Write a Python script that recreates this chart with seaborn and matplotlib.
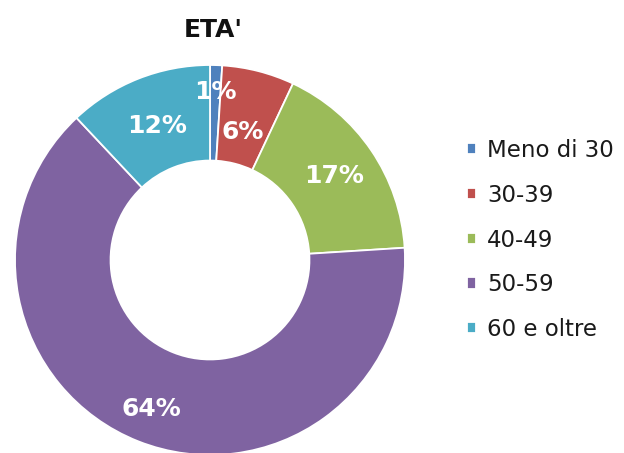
import matplotlib
matplotlib.use("Agg")
import matplotlib.pyplot as plt
import seaborn as sns

categories = ["Meno di 30", "30-39", "40-49", "50-59", "60 e oltre"]
shares = [1, 6, 17, 64, 12]
colors = ["#4F81BD", "#C0504D", "#9BBB59", "#7F63A1", "#4BACC6"]
title = "ETA'"

# radial spot of each percentage label, as fraction of the outer radius
label_dist = [0.86, 0.68, 0.77, 0.82, 0.74]

sns.set_theme(style="white")
plt.rcParams['font.family'] = ['DejaVu Sans']

fig = plt.figure(figsize=(6.24, 4.53), dpi=100)
# square axes holding the donut, bottom slightly cut like the original
ax = fig.add_axes([15 / 624, (453 - 260 - 195) / 453, 390 / 624, 390 / 453])

wedges, texts, autotexts = ax.pie(
    shares,
    colors=sns.color_palette(colors),
    startangle=90,
    counterclock=False,
    radius=1,
    autopct='%d%%',
    pctdistance=1.0,
    wedgeprops=dict(width=0.49, edgecolor='white', linewidth=1.3),
    textprops=dict(color='white', fontsize=18, fontweight='bold'),
)
for t, d in zip(autotexts, label_dist):
    x, y = t.get_position()
    t.set_position((x * d, y * d))

ax.set_xlim(-1, 1)
ax.set_ylim(-1, 1)
ax.set_aspect('equal')
ax.axis('off')

fig.text(213 / 624, 1 - 30 / 453, title, ha='center', va='center',
         fontsize=18, fontweight='bold', color='#111111')

leg = fig.legend(wedges, categories, loc='center left',
                 bbox_to_anchor=(467 / 624, 1 - 240 / 453),
                 frameon=False, fontsize=16.5, handlelength=0.38, handleheight=0.38,
                 handletextpad=0.5, labelspacing=0.95, borderpad=0, borderaxespad=0)
for t in leg.get_texts():
    t.set_color('#1a1a1a')

fig.savefig("out.png", dpi=100, facecolor='white')
